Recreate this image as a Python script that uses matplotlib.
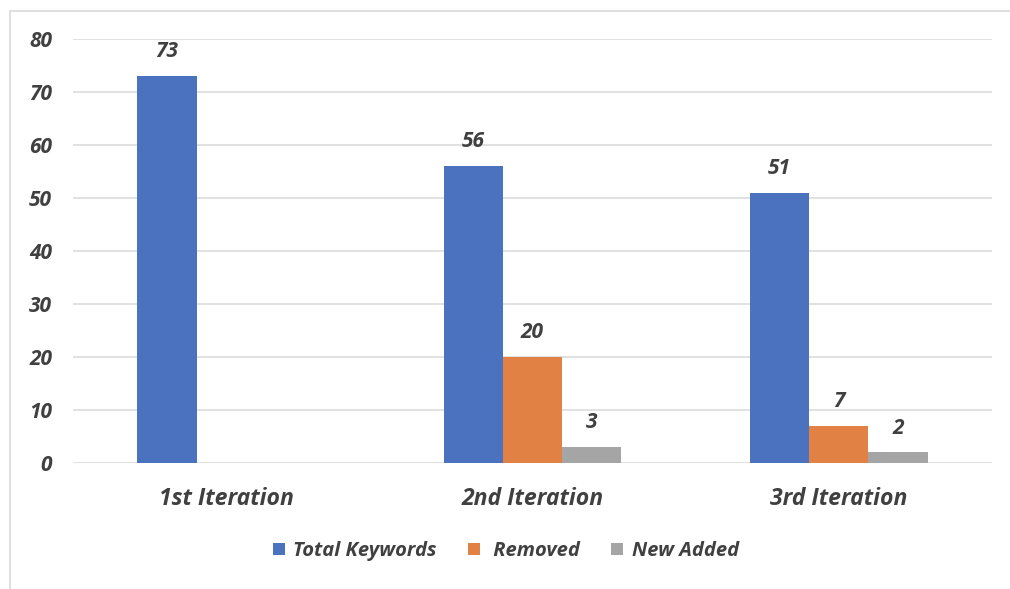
import matplotlib
matplotlib.use("Agg")
import matplotlib.pyplot as plt
from matplotlib.patches import Rectangle
import numpy as np

categories = ["1st Iteration", "2nd Iteration", "3rd Iteration"]
series_names = ["Total Keywords", " Removed", "New Added"]
total_keywords = [73, 56, 51]
removed = [None, 20, 7]
new_added = [None, 3, 2]
y_ticks = [0, 10, 20, 30, 40, 50, 60, 70, 80]

colors = ["#4A72BF", "#E18143", "#A5A5A5"]
txt = "#404040"
font = "Open Sans"

W, H = 1010, 589
fig = plt.figure(figsize=(W / 100, H / 100), dpi=100)
ax = fig.add_axes([73 / W, 1 - 463 / H, (992 - 73) / W, (463 - 39) / H])

# outer border
fig.patches.append(Rectangle((10 / W, -0.05), 1.1, 1 - 11 / H + 0.05,
                             transform=fig.transFigure, fill=False,
                             edgecolor="#D9D9D9", linewidth=1.2))

x = np.arange(len(categories))
bw = 0.193
data = [total_keywords, removed, new_added]
for i, (name, vals) in enumerate(zip(series_names, data)):
    xs = [xi + (i - 1) * bw for xi, v in zip(x, vals) if v is not None]
    vs = [v for v in vals if v is not None]
    bars = ax.bar(xs, vs, width=bw, color=colors[i], label=name, zorder=3)
    for b, v in zip(bars, vs):
        ax.text(b.get_x() + b.get_width() / 2, v + 4.6, str(v),
                ha="center", va="center", fontsize=15, fontweight="bold",
                fontstyle="italic", color=txt, family=font)

ax.set_xlim(-0.5, 2.5)
ax.set_ylim(0, 80)
ax.set_yticks(y_ticks)
ax.yaxis.grid(True, color="#D9D9D9", linewidth=1.1, zorder=0)
ax.set_axisbelow(True)
for s in ax.spines.values():
    s.set_visible(False)
ax.tick_params(axis="both", length=0)
ax.tick_params(axis="y", pad=15)
ax.tick_params(axis="x", pad=17)
ax.set_xticks(x)
ax.set_xticklabels(categories)
for lab in ax.get_yticklabels():
    lab.set_fontsize(15); lab.set_fontweight("bold"); lab.set_fontstyle("italic")
    lab.set_color(txt); lab.set_family(font)
for lab in ax.get_xticklabels():
    lab.set_fontsize(16.6); lab.set_fontweight("bold"); lab.set_fontstyle("italic")
    lab.set_color(txt); lab.set_family(font)

leg = fig.legend(loc="center", bbox_to_anchor=(506 / W, 1 - 551 / H), ncol=3,
                 frameon=False, handlelength=0.6, handleheight=0.6,
                 columnspacing=1.55, handletextpad=0.4,
                 prop={"family": font, "weight": "bold", "style": "italic", "size": 14.5})
for t in leg.get_texts():
    t.set_color(txt)

fig.savefig("out.png", dpi=100)
